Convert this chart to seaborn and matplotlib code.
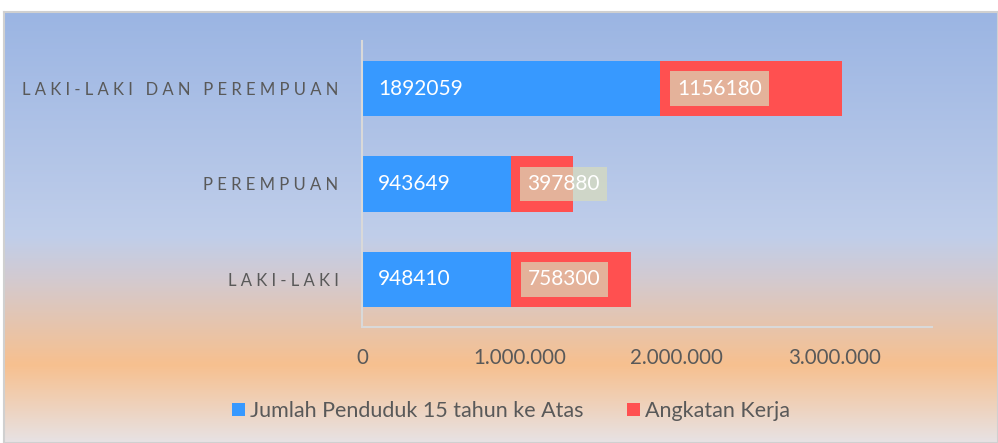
import numpy as np
import pandas as pd
import matplotlib.pyplot as plt
import seaborn as sns
from matplotlib.colors import LinearSegmentedColormap
from matplotlib.patches import Patch

# data (top to bottom as drawn)
categories = ["LAKI-LAKI DAN PEREMPUAN", "PEREMPUAN", "LAKI-LAKI"]
penduduk_15 = [1892059, 943649, 948410]
angkatan_kerja = [1156180, 397880, 758300]
x_ticks = [0, 1000000, 2000000, 3000000]
series_names = ["Jumlah Penduduk 15 tahun ke Atas", "Angkatan Kerja"]

BLUE = "#3799FF"
RED = "#FF5050"
GREY_TXT = "#595959"
FONT = ["Lato", "DejaVu Sans"]


def spaced(label):
    # wide letter spacing like the original category axis
    return "   ".join(" ".join(word) for word in label.split(" "))


def dotted(v):
    return f"{int(v):,}".replace(",", ".")


sns.set_theme(style="white")
plt.rcParams["font.family"] = FONT

df = pd.DataFrame({
    "cat": categories,
    "blue": penduduk_15,
    "total": np.array(penduduk_15) + np.array(angkatan_kerja),
})

fig = plt.figure(figsize=(9.98, 4.43), dpi=100)

# gradient background panel
bg = fig.add_axes([4 / 998, 0, 1 - 4 / 998, 1 - 12 / 443], zorder=-10)
grad_cmap = LinearSegmentedColormap.from_list("bg", [
    (0.00, "#9BB5E3"),
    (0.52, "#C0CEEA"),
    (0.62, "#D3CAD0"),
    (0.82, "#F7C08F"),
    (1.00, "#E7E2E4"),
])
bg.imshow(np.linspace(0, 1, 256).reshape(-1, 1), aspect="auto", cmap=grad_cmap,
          extent=[0, 1, 0, 1], origin="upper")
bg.set_xlim(0, 1)
bg.set_ylim(0, 1)
bg.set_xticks([])
bg.set_yticks([])
for s in bg.spines.values():
    s.set_color("#D0D0D0")
    s.set_linewidth(1.5)

ax = fig.add_axes([362 / 998, 116 / 443, 570 / 998, 286 / 443])
ax.set_facecolor("none")

sns.barplot(data=df, x="total", y="cat", color=RED, width=0.58,
            saturation=1, edgecolor="none", ax=ax)
sns.barplot(data=df, x="blue", y="cat", color=BLUE, width=0.58,
            saturation=1, edgecolor="none", ax=ax)

# data labels
for i, (b, r) in enumerate(zip(penduduk_15, angkatan_kerja)):
    ax.annotate(str(b), xy=(0, i), xytext=(11.5, 0), textcoords="offset points",
                ha="left", va="center", color="white", fontsize=15)
    ax.annotate(str(r), xy=(b, i), xytext=(12.2, 0), textcoords="offset points",
                ha="left", va="center", color="white", fontsize=15,
                bbox=dict(boxstyle="square,pad=0.35", fc="#D9DCBB",
                          ec="none", alpha=0.7))

ax.set_xlim(0, 3.62e6)
ax.set_xticks(x_ticks)
ax.set_xticklabels([dotted(v) for v in x_ticks], color=GREY_TXT, fontsize=14.8)
ax.set_yticks(range(len(categories)))
ax.set_yticklabels([spaced(c) for c in categories], color=GREY_TXT, fontsize=12)
ax.tick_params(axis="x", length=0, pad=15)
ax.tick_params(axis="y", length=0, pad=17)
ax.set_xlabel("")
ax.set_ylabel("")

for side in ["top", "right"]:
    ax.spines[side].set_visible(False)
for side in ["left", "bottom"]:
    ax.spines[side].set_color("#D9D9D9")
    ax.spines[side].set_linewidth(1.5)

handles = [Patch(facecolor=BLUE, edgecolor="none"),
           Patch(facecolor=RED, edgecolor="none")]
fig.legend(handles, series_names, loc="center", bbox_to_anchor=(0.512, 1 - 411 / 443),
           ncol=2, frameon=False, fontsize=15.5, labelcolor=GREY_TXT,
           handlelength=0.6, handleheight=0.6, handletextpad=0.25, columnspacing=2.0)

fig.savefig("out.png", dpi=100)
